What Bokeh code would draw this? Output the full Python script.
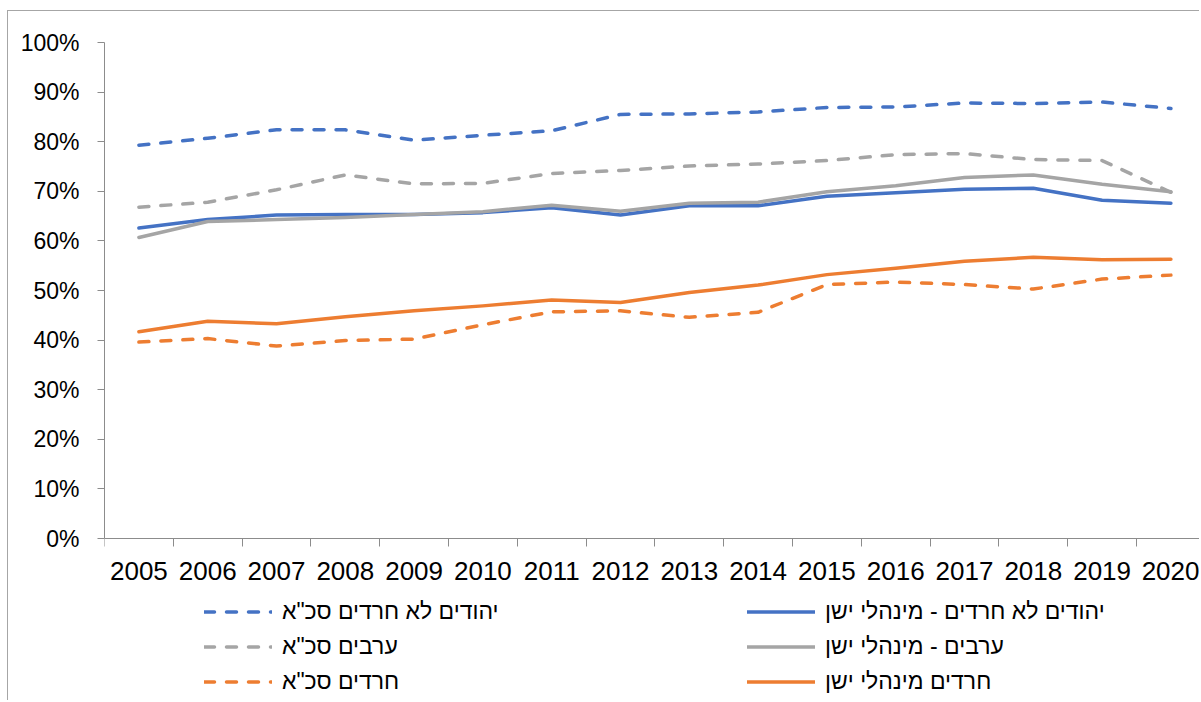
from bokeh.plotting import figure
from bokeh.models import (Range1d, FixedTicker, NumeralTickFormatter, Legend,
                          LegendItem, ColumnDataSource)
from bokeh.embed import file_html
from bokeh.resources import INLINE

years = list(range(2005, 2021))

# values in percent
jews_sca = [79.3, 80.7, 82.4, 82.4, 80.3, 81.3, 82.2, 85.5, 85.6, 86.0, 86.9, 87.0, 87.8, 87.7, 88.0, 86.7]
jews_admin = [62.6, 64.3, 65.2, 65.3, 65.3, 65.7, 66.7, 65.2, 67.1, 67.1, 69.0, 69.7, 70.4, 70.6, 68.2, 67.6]
arabs_sca = [66.8, 67.8, 70.3, 73.3, 71.5, 71.6, 73.6, 74.2, 75.1, 75.5, 76.2, 77.4, 77.6, 76.4, 76.2, 69.8]
arabs_admin = [60.7, 63.9, 64.3, 64.7, 65.3, 65.9, 67.2, 66.0, 67.6, 67.8, 69.9, 71.1, 72.8, 73.3, 71.4, 69.9]
haredi_sca = [39.6, 40.3, 38.8, 39.9, 40.2, 43.1, 45.7, 45.9, 44.6, 45.6, 51.2, 51.7, 51.2, 50.3, 52.3, 53.1]
haredi_admin = [41.7, 43.8, 43.3, 44.7, 45.9, 46.9, 48.1, 47.6, 49.6, 51.1, 53.2, 54.5, 55.9, 56.7, 56.2, 56.3]

names = {
    "jews_sca": 'יהודים לא חרדים סכ"א',
    "jews_admin": "יהודים לא חרדים - מינהלי ישן",
    "arabs_sca": 'ערבים סכ"א',
    "arabs_admin": "ערבים - מינהלי ישן",
    "haredi_sca": 'חרדים סכ"א',
    "haredi_admin": "חרדים מינהלי ישן",
}

BLUE = "#4472C4"
ORANGE = "#ED7D31"
GRAY = "#A5A5A5"
AXIS = "#8C8C8C"

src = ColumnDataSource(dict(
    x=years,
    jews_sca=[v / 100 for v in jews_sca],
    jews_admin=[v / 100 for v in jews_admin],
    arabs_sca=[v / 100 for v in arabs_sca],
    arabs_admin=[v / 100 for v in arabs_admin],
    haredi_sca=[v / 100 for v in haredi_sca],
    haredi_admin=[v / 100 for v in haredi_admin],
))

W, H = 1192, 690
LB, TB = 96, 31
cat_w = 68.8          # px per category
unit_h = 496          # px per 100%
frame_w = W - LB
frame_h = H - TB
x_start = years[0] - 0.5
x_end = x_start + frame_w / cat_w
y_start = 1 - frame_h / unit_h   # room below 0% for year labels and legend

p = figure(width=W, height=H, output_backend="svg", toolbar_location=None,
           x_range=Range1d(x_start, x_end), y_range=Range1d(y_start, 1),
           min_border_left=LB, min_border_right=0, min_border_top=TB,
           min_border_bottom=0)
p.outline_line_color = None
p.xgrid.visible = False
p.ygrid.visible = False
p.styles = {"margin-left": "7px", "margin-top": "10px",
            "border-left": "1px solid #A6A6A6", "border-top": "1px solid #A6A6A6"}

# x axis sits at 0%: boundaries as (minor) tick marks, labels at centres
xa = p.xaxis[0]
xa.fixed_location = 0
xa.ticker = FixedTicker(ticks=years, minor_ticks=[y - 0.5 for y in years] + [years[-1] + 0.5])
xa.major_label_overrides = {y: str(y) for y in years}
xa.major_tick_out = 0
xa.major_tick_in = 0
xa.minor_tick_out = 8
xa.minor_tick_in = 0
xa.minor_tick_line_color = AXIS
xa.axis_line_color = AXIS
xa.major_label_standoff = 15
xa.major_label_text_font = "Liberation Sans"
xa.major_label_text_font_size = "26px"
xa.major_label_text_color = "#000000"

ya = p.yaxis[0]
ya.bounds = (0, 1)
ya.ticker = FixedTicker(ticks=[i / 10 for i in range(11)], minor_ticks=[])
ya.formatter = NumeralTickFormatter(format="0%")
ya.major_tick_out = 7
ya.major_tick_in = 0
ya.major_tick_line_color = AXIS
ya.axis_line_color = AXIS
ya.major_label_standoff = 18
ya.major_label_text_font = "Liberation Sans"
ya.major_label_text_font_size = "23px"
ya.major_label_text_color = "#000000"

dash = "10 12"
lw = 3.5
specs = [
    ("jews_sca", BLUE, dash),
    ("jews_admin", BLUE, "solid"),
    ("arabs_sca", GRAY, dash),
    ("arabs_admin", GRAY, "solid"),
    ("haredi_sca", ORANGE, dash),
    ("haredi_admin", ORANGE, "solid"),
]
renderers = {}
for key, color, ld in specs:
    r = p.line("x", key, source=src, line_color=color, line_width=lw,
               line_dash=ld, line_cap="round", line_join="round")
    renderers[key] = r


def make_legend(keys, x):
    leg = Legend(items=[LegendItem(label=names[k], renderers=[renderers[k]]) for k in keys],
                 location=(x, 2), orientation="vertical")
    leg.border_line_alpha = 0
    leg.background_fill_alpha = 0
    leg.padding = 0
    leg.margin = 0
    leg.spacing = 0
    leg.glyph_width = 68
    leg.glyph_height = 35
    leg.label_height = 35
    leg.label_standoff = 10
    leg.label_text_font = "Liberation Sans"
    leg.label_text_font_size = "23px"
    leg.label_text_color = "#000000"
    leg.label_text_baseline = "middle"
    return leg


p.add_layout(make_legend(["jews_sca", "arabs_sca", "haredi_sca"], 100))
p.add_layout(make_legend(["jews_admin", "arabs_admin", "haredi_admin"], 643))

open("out.html", "w").write(file_html(p, INLINE))
